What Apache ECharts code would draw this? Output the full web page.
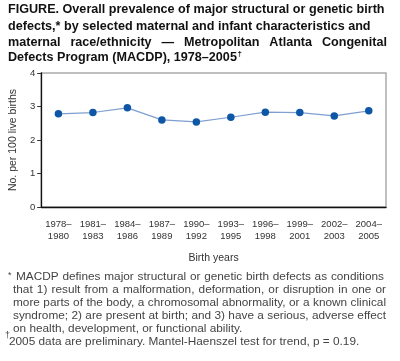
<!DOCTYPE html>
<html><head><meta charset="utf-8">
<script src="https://cdn.jsdelivr.net/npm/echarts@6/dist/echarts.min.js"></script>
<style>html,body{margin:0;padding:0;background:#fff}#c{width:400px;height:361px}</style>
</head><body><div id="c"></div>
<script>
var categories = ['1978–\n1980','1981–\n1983','1984–\n1986','1987–\n1989','1990–\n1992','1993–\n1995','1996–\n1998','1999–\n2001','2002–\n2003','2004–\n2005'];
var prevalence = [2.78, 2.82, 2.96, 2.60, 2.54, 2.68, 2.83, 2.82, 2.72, 2.87];
var yTicks = [0, 1, 2, 3, 4];
var titleLines = [
  'FIGURE. Overall prevalence of major structural or genetic birth',
  'defects,* by selected maternal and infant characteristics and',
  'maternal race/ethnicity — Metropolitan Atlanta Congenital',
  'Defects Program (MACDP), 1978–2005'
];
var footLines = [
  'MACDP defines major structural or genetic birth defects as conditions',
  'that 1) result from a malformation, deformation, or disruption in one or',
  'more parts of the body, a chromosomal abnormality, or a known clinical',
  'syndrome; 2) are present at birth; and 3) have a serious, adverse effect',
  'on health, development, or functional ability.'
];
var footLast = '2005 data are preliminary. Mantel-Haenszel test for trend, p = 0.19.';

var chart = echarts.init(document.getElementById('c'), null, {renderer:'canvas'});
var F = '"Liberation Sans", Arial, Helvetica, sans-serif';
var mctx = document.createElement('canvas').getContext('2d');
var graphics = [];

// lay out a line of text, optionally justified between x0 and x1
function addLine(text, font, color, x0, x1, top, justify) {
  if (!justify) {
    graphics.push({type:'text', left: x0, top: top, style:{text: text, font: font, fill: color}});
    return;
  }
  mctx.font = font;
  var words = text.split(' ');
  var total = 0;
  var ws = words.map(function(w){ var m = mctx.measureText(w).width; total += m; return m; });
  var gap = (x1 - x0 - total) / (words.length - 1);
  var x = x0;
  words.forEach(function(w, i){
    graphics.push({type:'text', left: x, top: top, style:{text: w, font: font, fill: color}});
    x += ws[i] + gap;
  });
}

var TF = 'bold 12.6px ' + F;
var titleTop = [3, 20, 36, 51];
addLine(titleLines[0], TF, '#111', 8, 384, titleTop[0], false);
addLine(titleLines[1], TF, '#111', 8, 382, titleTop[1], false);
addLine(titleLines[2], TF, '#111', 8, 387, titleTop[2], true);
addLine(titleLines[3], TF, '#111', 8, 0, titleTop[3], false);
mctx.font = TF;
graphics.push({type:'text', left: 8 + mctx.measureText(titleLines[3]).width + 0.5, top: titleTop[3] - 1, style:{text:'†', font:'bold 8px ' + F, fill:'#111'}});

var NF = '11.8px ' + F;
var footTop = [271, 284, 297, 310, 323];
var footX = [16, 13, 13, 13, 13];
graphics.push({type:'text', left: 8, top: 271, style:{text:'*', font:'9px ' + F, fill:'#444'}});
footLines.forEach(function(t, i){
  addLine(t, NF, '#444', footX[i], i === 0 ? 384 : 386, footTop[i], i < 4);
});
graphics.push({type:'text', left: 5, top: 331, style:{text:'†', font:'9px ' + F, fill:'#444'}});
addLine(footLast, NF, '#444', 9, 0, 336, false);

chart.setOption({
  animation: false,
  backgroundColor: '#fff',
  graphic: graphics,
  grid: {left: 36, right: 14, top: 73, bottom: 154, show: true, borderColor: '#aaa', borderWidth: 1.5, containLabel: false},
  xAxis: {
    type: 'category', data: categories, boundaryGap: true,
    name: 'Birth years', nameLocation: 'middle', nameGap: 46,
    nameTextStyle: {fontFamily: F, fontSize: 10.5, color: '#333'},
    axisLine: {lineStyle: {color: '#111', width: 1.3}},
    axisTick: {alignWithLabel: true, length: 5, lineStyle: {color: '#555'}},
    axisLabel: {fontFamily: F, fontSize: 9.5, color: '#333', lineHeight: 12, margin: 11, interval: 0}
  },
  yAxis: {
    type: 'value', min: 0, max: 4, interval: 1,
    name: 'No. per 100 live births', nameLocation: 'middle', nameGap: 22,
    nameTextStyle: {fontFamily: F, fontSize: 10.5, color: '#333'},
    axisLine: {show: true, lineStyle: {color: '#111', width: 1.3}},
    axisTick: {show: true, length: 4, lineStyle: {color: '#333'}},
    splitLine: {show: false},
    axisLabel: {fontFamily: F, fontSize: 9.5, color: '#333', margin: 6}
  },
  series: [{
    type: 'line', data: prevalence,
    symbol: 'circle', symbolSize: 7.5,
    lineStyle: {color: '#7f9fd0', width: 1.2},
    itemStyle: {color: '#0d57a6'}
  }]
});
</script></body></html>
